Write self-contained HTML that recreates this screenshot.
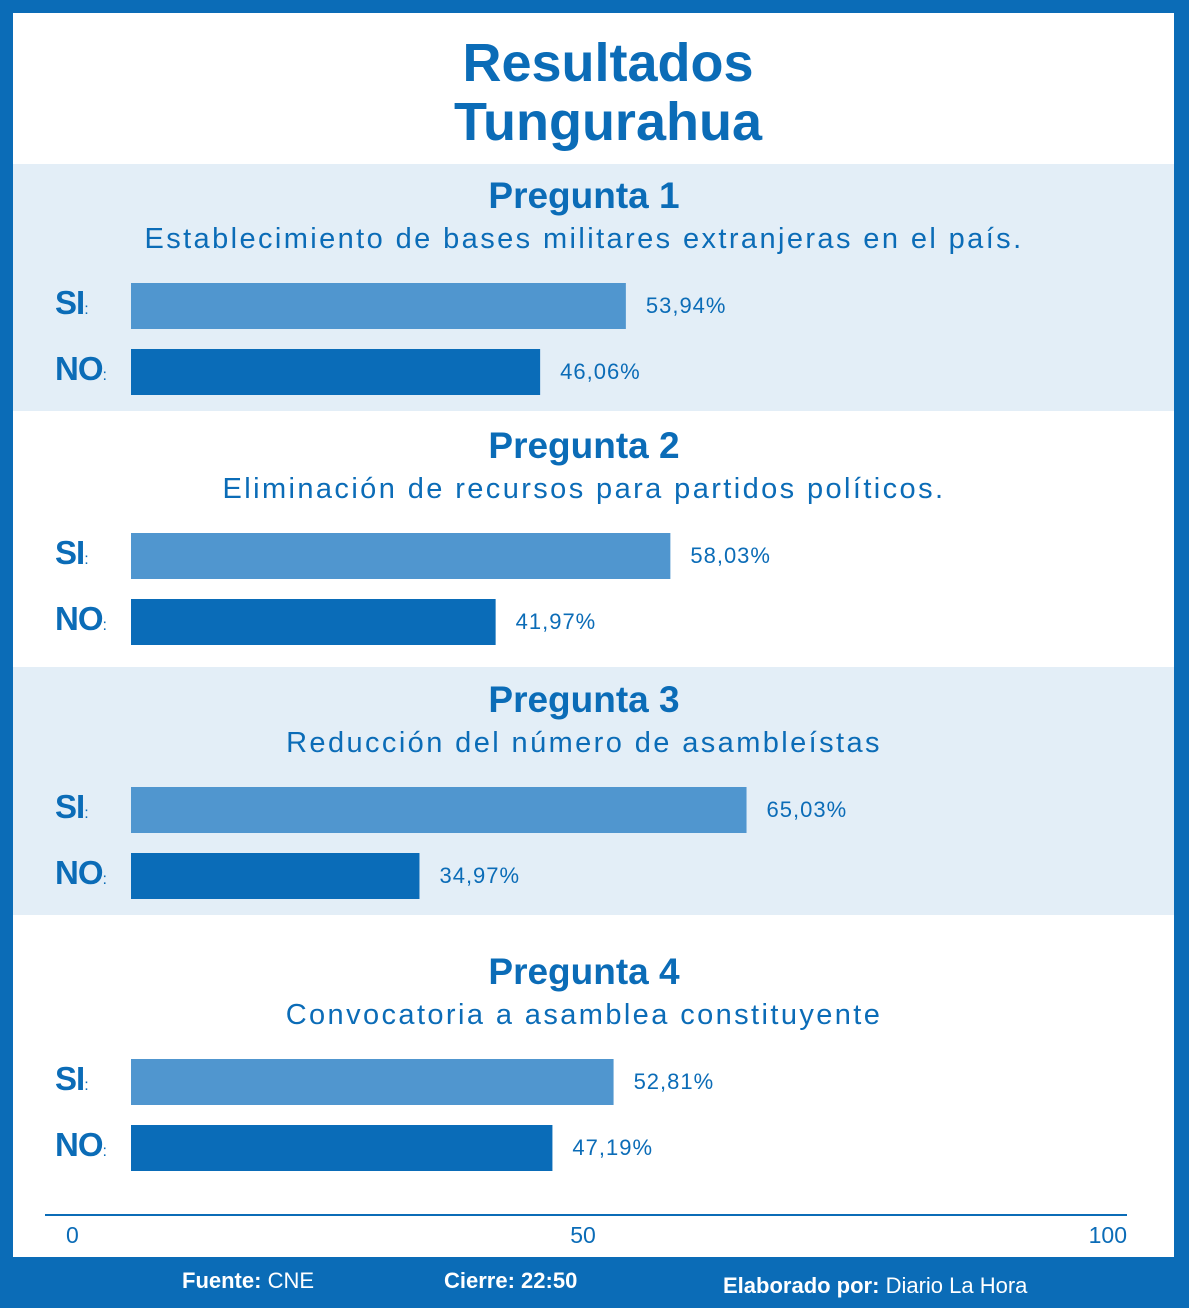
<!DOCTYPE html>
<html><head><meta charset="utf-8"><style>
body{margin:0;width:1189px;height:1308px;overflow:hidden;background:#fff;font-family:"Liberation Sans",sans-serif}
</style></head><body>
<svg id="c" width="1189" height="1308" xmlns="http://www.w3.org/2000/svg">
<rect x="0" y="0" width="1189" height="1308" fill="#0b6cb7"/>
<rect x="13" y="13" width="1161" height="1244" fill="#fff"/>
<rect x="13" y="164" width="1161" height="247" fill="#e3eef7"/>
<rect x="13" y="667" width="1161" height="248" fill="#e3eef7"/>
<text x="608" y="81" text-anchor="middle" font-size="54" font-weight="bold" fill="#0b6cb7">Resultados</text>
<text x="608" y="140" text-anchor="middle" font-size="54" font-weight="bold" fill="#0b6cb7">Tungurahua</text>
<g id="bars"></g>
<line x1="45" y1="1215" x2="1127" y2="1215" stroke="#0b6cb7" stroke-width="2"/>
<g id="ticks"></g>
<text x="182" y="1288" font-size="22" fill="#fff"><tspan font-weight="bold">Fuente:</tspan> CNE</text>
<text x="444" y="1288" font-size="22" fill="#fff" font-weight="bold">Cierre: 22:50</text>
<text x="723" y="1293" font-size="22" fill="#fff"><tspan font-weight="bold">Elaborado por:</tspan> Diario La Hora</text>
</svg>
<script>
const questions=["Pregunta 1","Pregunta 2","Pregunta 3","Pregunta 4"];
const subtitles=["Establecimiento de bases militares extranjeras en el país.","Eliminación de recursos para partidos políticos.","Reducción del número de asambleístas","Convocatoria a asamblea constituyente"];
const siValues=[53.94,58.03,65.03,52.81];
const noValues=[46.06,41.97,34.97,47.19];
const tickValues=[0,50,100];
const NS="http://www.w3.org/2000/svg";
function x(v){return 583+10.88*(v-50);}
const blockTops=[165,415,669,941];
function mk(tag,attrs,parent){const e=document.createElementNS(NS,tag);for(const k in attrs)e.setAttribute(k,attrs[k]);parent.appendChild(e);return e;}
const g=document.getElementById('bars');
questions.forEach((q,i)=>{
  const t=blockTops[i];
  let e=mk('text',{x:584,y:t+43,'text-anchor':'middle','font-size':37,'font-weight':'bold',fill:'#0b6cb7'},g);
  e.textContent=q;
  
  
  e=mk('text',{x:584,y:t+83,'text-anchor':'middle','font-size':29,fill:'#0b6cb7','letter-spacing':'2.4'},g);
  e.textContent=subtitles[i];
  
  
  const sy=t+118, ny=t+184;
  [[siValues[i],sy,'#5096cf','SI','si'],[noValues[i],ny,'#0a6cb8','NO','no']].forEach(([v,y,c,lab,k])=>{
    const r=mk('rect',{x:131,y:y,width:x(v)-131,height:46,fill:c},g);
    
    
    const l=mk('text',{x:55,y:y+31,'font-size':33,'font-weight':'bold',fill:'#0b6cb7','letter-spacing':'-1'},g);
    l.innerHTML=lab+'<tspan font-size="16" font-weight="normal">:</tspan>';
    
    
    const p=mk('text',{x:x(v)+20,y:y+30,'font-size':22,fill:'#0b6cb7','letter-spacing':'1'},g);
    p.textContent=v.toFixed(2).replace('.',',')+'%';
    
    
  });
});
const tg=document.getElementById('ticks');
tickValues.forEach((v,i)=>{
  const a=i==0?'start':(i==tickValues.length-1?'end':'middle');
  const tx=i==0?x(v)+27:x(v);
  const e=mk('text',{x:tx,y:1243,'text-anchor':a,'font-size':23,fill:'#0b6cb7'},tg);
  e.textContent=v;
  
  
});
</script>
</body></html>
